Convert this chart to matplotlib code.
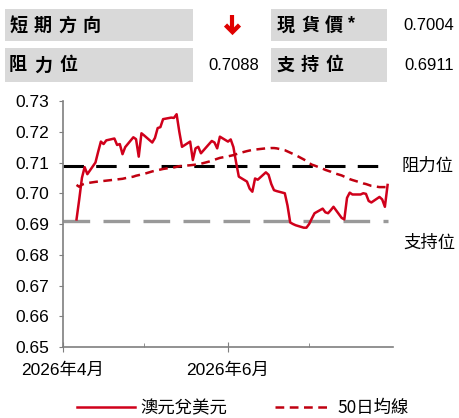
import matplotlib
matplotlib.use("Agg")
import matplotlib.pyplot as plt
import matplotlib.dates as mdates
from matplotlib.patches import Rectangle
from matplotlib.lines import Line2D
import pandas as pd

plt.rcParams['font.family'] = ['Liberation Sans', 'Noto Sans CJK TC', 'DejaVu Sans']

# 交易日 (2026-04-06 至 2026-07-30)
fechas = pd.bdate_range('2026-04-06', '2026-07-30')

aud_usd = [
    0.6915, 0.6980, 0.7050, 0.7085, 0.7062,
    0.7100, 0.7135, 0.7168, 0.7160, 0.7172,
    0.7178, 0.7157, 0.7160, 0.7127, 0.7150,
    0.7182, 0.7176, 0.7119, 0.7195, 0.7188,
    0.7165, 0.7180, 0.7212, 0.7215, 0.7241,
    0.7246, 0.7245, 0.7257, 0.7200, 0.7151,
    0.7168, 0.7108, 0.7146, 0.7151, 0.7130,
    0.7160, 0.7170, 0.7165, 0.7146, 0.7184,
    0.7168, 0.7175, 0.7150, 0.7100, 0.7054,
    0.7038, 0.7015, 0.7005, 0.7048, 0.7044,
    0.7068, 0.7060, 0.7030, 0.7010, 0.7007,
    0.7000, 0.6960, 0.6905, 0.6900, 0.6896,
    0.6888, 0.6888, 0.6900, 0.6918, 0.6935,
    0.6950, 0.6938, 0.6935, 0.6945, 0.6956,
    0.6920, 0.6915, 0.6985, 0.7002, 0.6996,
    0.6996, 0.7000, 0.6998, 0.6975, 0.6970,
    0.6988, 0.6980, 0.6956, 0.7027,
]

ma50 = [
    0.7027, 0.7021, 0.7028, 0.7031, 0.7033,
    0.7037, 0.7038, 0.7039, 0.7040, 0.7041,
    0.7044, 0.7045, 0.7046, 0.7047, 0.7049,
    0.7054, 0.7057, 0.7059, 0.7061, 0.7063,
    0.7071, 0.7073, 0.7075, 0.7077, 0.7079,
    0.7083, 0.7084, 0.7086, 0.7088, 0.7089,
    0.7091, 0.7092, 0.7093, 0.7094, 0.7096,
    0.7103, 0.7106, 0.7109, 0.7112, 0.7115,
    0.7120, 0.7122, 0.7124, 0.7127, 0.7130,
    0.7137, 0.7139, 0.7141, 0.7142, 0.7143,
    0.7146, 0.7146, 0.7147, 0.7147, 0.7146,
    0.7140, 0.7136, 0.7132, 0.7128, 0.7124,
    0.7110, 0.7105, 0.7098, 0.7093, 0.7090,
    0.7080, 0.7076, 0.7073, 0.7070, 0.7066,
    0.7058, 0.7054, 0.7050, 0.7046, 0.7043,
    0.7035, 0.7032, 0.7030, 0.7027, 0.7024,
    0.7020, 0.7020, 0.7020, 0.7020,
]

resistencia = 0.7088
soporte = 0.6911
precio_actual = 0.7004

fig = plt.figure(figsize=(4.6, 4.18), dpi=100)
W, H = 460, 418

# --- tabla de cabecera ---
def caja(x0, y0, x1, y1):
    fig.patches.append(Rectangle((x0 / W, 1 - y1 / H), (x1 - x0) / W, (y1 - y0) / H,
                                 transform=fig.transFigure, facecolor='#d9d9d9',
                                 edgecolor='none', zorder=0))

def espaciado(texto, x, y, paso):
    # coloca cada carácter con separación fija (en píxeles)
    for i, c in enumerate(texto):
        fig.text((x + i * paso) / W, 1 - y / H, c, fontsize=13, fontweight='bold',
                 family=['Noto Sans CJK TC', 'DejaVu Sans'], va='center', ha='left')

caja(5, 9, 193, 41)
caja(271, 9, 387, 41)
caja(5, 48, 193, 82)
caja(271, 48, 387, 82)

espaciado('短期方向', 9, 25, 24.5)
espaciado('阻力位', 9, 65, 25)
espaciado('現貨價', 277, 25, 24)
fig.text(348 / W, 1 - 24 / H, '*', fontsize=13, fontweight='bold', va='center', ha='left')
espaciado('支持位', 277, 65, 24)

# flecha roja hacia abajo
rojo_f = '#e00000'
fig.add_artist(Line2D([232.5 / W, 232.5 / W], [1 - 15 / H, 1 - 31 / H],
                      transform=fig.transFigure, color=rojo_f, lw=3, solid_capstyle='butt'))
fig.add_artist(Line2D([225.5 / W, 232.5 / W, 239.5 / W], [1 - 25 / H, 1 - 32 / H, 1 - 25 / H],
                      transform=fig.transFigure, color=rojo_f, lw=3.2, solid_joinstyle='miter',
                      solid_capstyle='butt'))

estilo_v = dict(fontsize=12, va='center', ha='right')
fig.text(454 / W, 1 - 25 / H, f'{precio_actual:.4f}', **estilo_v)
fig.text(259 / W, 1 - 65 / H, f'{resistencia:.4f}', **estilo_v)
fig.text(454 / W, 1 - 65 / H, f'{soporte:.4f}', **estilo_v)

# --- gráfico ---
ax = fig.add_axes([63 / W, 1 - 347 / H, 330 / W, 246 / H])
inicio = pd.Timestamp('2026-04-01')
fin = pd.Timestamp('2026-08-01')

ax.plot(fechas, aud_usd, color='#d0001b', lw=1.8, label='澳元兌美元', zorder=3)
ax.plot(fechas, ma50, color='#c00010', lw=1.8, ls=(0, (3.5, 2.2)), label='50日均線', zorder=3)
ax.hlines(resistencia, inicio, fechas[-1], color='black', lw=2.2, ls=(0, (6.7, 4)), zorder=2)
ax.hlines(soporte, inicio, fechas[-1], color='#999999', lw=2.4, ls=(0, (8, 4)), zorder=2)

ax.set_xlim(inicio, fin)
ax.set_ylim(0.65, 0.73)
ax.set_yticks([0.65 + 0.01 * i for i in range(9)])
ax.yaxis.set_major_formatter(plt.FuncFormatter(lambda v, p: f'{v:.2f}'))

ax.xaxis.set_minor_locator(mdates.MonthLocator(bymonth=[5, 7]))

for s in ['top', 'right']:
    ax.spines[s].set_visible(False)
for s in ['left', 'bottom']:
    ax.spines[s].set_color('#7f7f7f')
    ax.spines[s].set_linewidth(1.2)

ax.tick_params(axis='y', direction='out', length=3, color='#7f7f7f', labelsize=12.5, pad=7)
ax.tick_params(axis='x', which='major', direction='inout', length=7, color='#7f7f7f',
               labelsize=12.5, pad=8)
ax.tick_params(axis='x', which='minor', direction='in', length=3, color='#7f7f7f')
ax.set_xticks([pd.Timestamp('2026-04-01'), pd.Timestamp('2026-06-01')])
ax.set_xticklabels(['2026年4月', '2026年6月'])

cjk = ['Noto Sans CJK TC', 'DejaVu Sans']
ax.text(1.027, resistencia, '阻力位', transform=ax.get_yaxis_transform(), family=cjk,
        fontsize=12.5, ha='left', va='center')
ax.text(1.03, 0.6838, '支持位', transform=ax.get_yaxis_transform(), family=cjk,
        fontsize=12.5, ha='left', va='center')

fig.legend(*ax.get_legend_handles_labels(), loc='center', bbox_to_anchor=(0.529, 1 - 408 / H),
           ncol=2, frameon=False, prop={'family': cjk, 'size': 12.5},
           handlelength=3.3, columnspacing=2.7, handletextpad=0.35)

fig.savefig('out.png', dpi=100)
